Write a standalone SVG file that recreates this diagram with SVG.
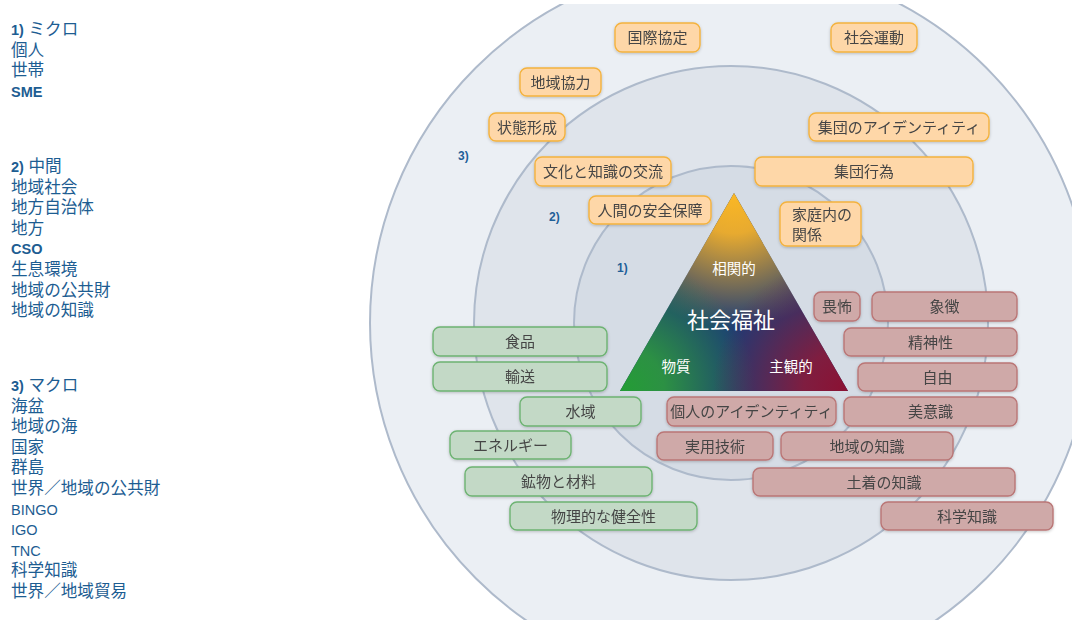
<svg xmlns="http://www.w3.org/2000/svg" width="1072" height="620" viewBox="0 0 1072 620">
<defs>
<style>
.lt{font-family:"Liberation Sans","Noto Sans CJK JP",sans-serif;font-size:16.6px;fill:#1d5d92}
.lt .b{font-weight:bold;font-size:14.5px}
.lat{font-size:14.5px}
.ring{stroke:#aebacb;stroke-width:2}
.o rect{fill:#fed7a8;stroke:#f4b23e;stroke-width:1.4}
.g rect{fill:#c3d9c6;stroke:#6db372;stroke-width:1.4}
.r rect{fill:#cfa9a8;stroke:#ba7676;stroke-width:1.4}
.bx text{font-family:"Noto Sans CJK JP",sans-serif;font-size:15px;fill:#454545;text-anchor:middle}
.lv{font-family:"Liberation Sans",sans-serif;font-size:12px;font-weight:bold;fill:#1f5f98}
.tri{font-family:"Noto Sans CJK JP",sans-serif;fill:#ffffff;text-anchor:middle}
</style>
<filter id="sh" x="-10%" y="-30%" width="120%" height="170%">
<feDropShadow dx="0" dy="1" stdDeviation="1.5" flood-color="#000" flood-opacity="0.22"/>
</filter>
<clipPath id="cp"><rect x="0" y="4" width="1072" height="616"/></clipPath>
<radialGradient id="gy" gradientUnits="userSpaceOnUse" cx="734" cy="193" r="135">
<stop offset="0" stop-color="#fbb824" stop-opacity="1"/>
<stop offset="0.3" stop-color="#f2b02c" stop-opacity="0.95"/>
<stop offset="1" stop-color="#f2b02c" stop-opacity="0"/>
</radialGradient>
<radialGradient id="gg" gradientUnits="userSpaceOnUse" cx="625" cy="388" r="130">
<stop offset="0" stop-color="#249c36" stop-opacity="1"/>
<stop offset="0.3" stop-color="#2e9a3e" stop-opacity="0.9"/>
<stop offset="1" stop-color="#2e9a3e" stop-opacity="0"/>
</radialGradient>
<radialGradient id="gr" gradientUnits="userSpaceOnUse" cx="843" cy="388" r="130">
<stop offset="0" stop-color="#8a1234" stop-opacity="1"/>
<stop offset="0.3" stop-color="#8a1a3a" stop-opacity="0.9"/>
<stop offset="1" stop-color="#8a1a3a" stop-opacity="0"/>
</radialGradient>
</defs>
<rect width="1072" height="620" fill="#ffffff"/>
<g id="rings" clip-path="url(#cp)">
<circle class="ring" cx="731" cy="323" r="361" fill="#ebeff4"/>
<circle class="ring" cx="731" cy="323" r="257" fill="#dfe4eb"/>
<circle class="ring" cx="731" cy="323" r="157" fill="#d5dce5"/>
</g>
<g id="levels">
<text class="lv" x="617" y="272">1)</text>
<text class="lv" x="549" y="221">2)</text>
<text class="lv" x="458" y="160">3)</text>
</g>
<g id="legend" class="lt">
<text x="11" y="35"><tspan class="b">1)</tspan> ミクロ</text>
<text x="11" y="55.6">個人</text>
<text x="11" y="76.2">世帯</text>
<text x="11" y="96.8" style="font-weight:bold;font-size:14.5px">SME</text>
<text x="11" y="172"><tspan class="b">2)</tspan> 中間</text>
<text x="11" y="192.6">地域社会</text>
<text x="11" y="213.2">地方自治体</text>
<text x="11" y="233.8">地方</text>
<text x="11" y="254.4" style="font-weight:bold;font-size:14.5px">CSO</text>
<text x="11" y="275">生息環境</text>
<text x="11" y="295.6">地域の公共財</text>
<text x="11" y="316.2">地域の知識</text>
<text x="11" y="391"><tspan class="b">3)</tspan> マクロ</text>
<text x="11" y="411.6">海盆</text>
<text x="11" y="432.2">地域の海</text>
<text x="11" y="452.8">国家</text>
<text x="11" y="473.4">群島</text>
<text x="11" y="494">世界／地域の公共財</text>
<text x="11" y="514.6" class="lat">BINGO</text>
<text x="11" y="535.2" class="lat">IGO</text>
<text x="11" y="555.8" class="lat">TNC</text>
<text x="11" y="576.4">科学知識</text>
<text x="11" y="597">世界／地域貿易</text>
</g>
<g id="triangle">
<polygon points="734,193 620,391 848,391" fill="#1b3b76"/>
<polygon points="734,193 620,391 848,391" fill="url(#gy)"/>
<polygon points="734,193 620,391 848,391" fill="url(#gg)"/>
<polygon points="734,193 620,391 848,391" fill="url(#gr)"/>
<text class="tri" x="734" y="274" font-size="14.5">相関的</text>
<text class="tri" x="731" y="328" font-size="22">社会福祉</text>
<text class="tri" x="676" y="372" font-size="14.5">物質</text>
<text class="tri" x="791" y="372" font-size="14.5">主観的</text>
</g>
<g id="connectors"/>
<g class="bx o" filter="url(#sh)">
<g id="n-kokusai"><rect x="615" y="23" width="85" height="29" rx="7"/><text x="657.5" y="43">国際協定</text></g>
<g id="n-shakaiundo"><rect x="831" y="23" width="86" height="29" rx="7"/><text x="874" y="43">社会運動</text></g>
<g id="n-chiikikyoryoku"><rect x="520" y="68" width="81" height="28" rx="7"/><text x="560.5" y="87.5">地域協力</text></g>
<g id="n-jotai"><rect x="489" y="113" width="76" height="28" rx="7"/><text x="527" y="132.5">状態形成</text></g>
<g id="n-shudanid"><rect x="809" y="113" width="180" height="28" rx="7"/><text x="899" y="132.5">集団のアイデンティティ</text></g>
<g id="n-bunka"><rect x="535" y="157" width="136" height="29" rx="7"/><text x="603" y="177">文化と知識の交流</text></g>
<g id="n-shudankoi"><rect x="755" y="157" width="218" height="29" rx="7"/><text x="864" y="177">集団行為</text></g>
<g id="n-ningen"><rect x="589" y="196" width="122" height="28" rx="7"/><text x="650" y="215.5">人間の安全保障</text></g>
<g id="n-katei"><rect x="780" y="202" width="81" height="44" rx="7"/><text x="792" y="220" style="text-anchor:start">家庭内の</text><text x="792" y="239.5" style="text-anchor:start">関係</text></g>
</g>
<g class="bx g" filter="url(#sh)">
<g id="n-shokuhin"><rect x="433" y="327" width="174" height="29" rx="7"/><text x="520" y="347">食品</text></g>
<g id="n-yuso"><rect x="433" y="362" width="174" height="29" rx="7"/><text x="520" y="382">輸送</text></g>
<g id="n-suiiki"><rect x="520" y="397" width="121" height="29" rx="7"/><text x="580.5" y="417">水域</text></g>
<g id="n-energy"><rect x="450" y="431" width="121" height="28" rx="7"/><text x="510.5" y="450.5">エネルギー</text></g>
<g id="n-kobutsu"><rect x="465" y="467" width="187" height="29" rx="7"/><text x="558.5" y="487">鉱物と材料</text></g>
<g id="n-butsuri"><rect x="510" y="502" width="187" height="28" rx="7"/><text x="603.5" y="521.5">物理的な健全性</text></g>
</g>
<g class="bx r" filter="url(#sh)">
<g id="n-ifu"><rect x="814" y="292" width="46" height="29" rx="7"/><text x="837" y="312">畏怖</text></g>
<g id="n-shocho"><rect x="872" y="292" width="145" height="29" rx="7"/><text x="944.5" y="312">象徴</text></g>
<g id="n-seishin"><rect x="844" y="328" width="173" height="28" rx="7"/><text x="930.5" y="347.5">精神性</text></g>
<g id="n-jiyu"><rect x="858" y="363" width="159" height="28" rx="7"/><text x="937.5" y="382.5">自由</text></g>
<g id="n-kojinid"><rect x="667" y="397" width="169" height="29" rx="7"/><text x="751.5" y="417">個人のアイデンティティ</text></g>
<g id="n-biishiki"><rect x="844" y="397" width="173" height="29" rx="7"/><text x="930.5" y="417">美意識</text></g>
<g id="n-jitsuyo"><rect x="657" y="432" width="116" height="28" rx="7"/><text x="715" y="451.5">実用技術</text></g>
<g id="n-chiikichishiki"><rect x="781" y="432" width="172" height="28" rx="7"/><text x="867" y="451.5">地域の知識</text></g>
<g id="n-dochaku"><rect x="753" y="468" width="262" height="28" rx="7"/><text x="884" y="487.5">土着の知識</text></g>
<g id="n-kagaku"><rect x="881" y="502" width="172" height="28" rx="7"/><text x="967" y="521.5">科学知識</text></g>
</g>
</svg>
